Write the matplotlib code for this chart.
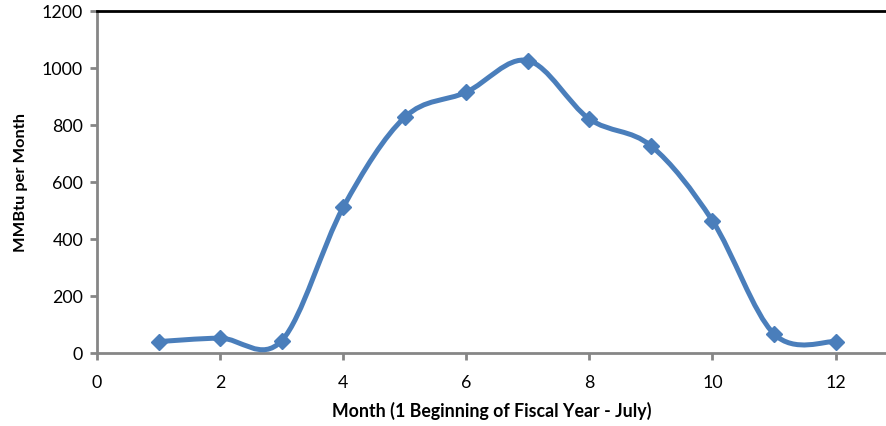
import numpy as np
import matplotlib
matplotlib.use("Agg")
import matplotlib.pyplot as plt
from matplotlib.path import Path
from matplotlib.patches import PathPatch

months = [1, 2, 3, 4, 5, 6, 7, 8, 9, 10, 11, 12]
mmbtu = [40, 52, 43, 511, 827, 915, 1026, 821, 727, 464, 67, 40]
x_ticks = [0, 2, 4, 6, 8, 10, 12]
y_ticks = [0, 200, 400, 600, 800, 1000, 1200]

plt.rcParams['font.family'] = ['Lato', 'DejaVu Sans']

LINE = '#4A7EBB'
AXIS_GRAY = '#868686'

fig = plt.figure(figsize=(8.86, 4.27), dpi=100)
ax = fig.add_axes([0.1095, 0.171, 1.0 - 0.1095, 0.972 - 0.171])


def smooth_path(xs, ys):
    """Cubic Bezier spline through the points (Catmull-Rom style tangents)."""
    px = list(xs)
    py = list(ys)
    n = len(px)
    verts = [(px[0], py[0])]
    codes = [Path.MOVETO]
    for i in range(n - 1):
        i0 = max(i - 1, 0)
        i3 = min(i + 2, n - 1)
        c1 = (px[i] + (px[i + 1] - px[i0]) / 6, py[i] + (py[i + 1] - py[i0]) / 6)
        c2 = (px[i + 1] - (px[i3] - px[i]) / 6, py[i + 1] - (py[i3] - py[i]) / 6)
        verts += [c1, c2, (px[i + 1], py[i + 1])]
        codes += [Path.CURVE4] * 3
    return Path(verts, codes)


ax.add_patch(PathPatch(smooth_path(months, mmbtu), facecolor='none',
                       edgecolor=LINE, lw=3.6, capstyle='round', joinstyle='round', zorder=3))
ax.plot(months, mmbtu, linestyle='none', marker='D', markersize=8.5,
        color=LINE, markeredgecolor=LINE, zorder=4)

ax.set_xlim(0, 12.82)
ax.set_ylim(0, 1200)
ax.set_xticks(x_ticks)
ax.set_yticks(y_ticks)
ax.set_xticklabels([str(v) for v in x_ticks])
ax.set_yticklabels([str(v) for v in y_ticks])

for side in ('left', 'bottom'):
    ax.spines[side].set_color(AXIS_GRAY)
    ax.spines[side].set_linewidth(2.0)
ax.spines['top'].set_color('black')
ax.spines['top'].set_linewidth(2.0)
ax.spines['right'].set_visible(False)

ax.tick_params(axis='both', direction='out', length=5, width=2.0, color=AXIS_GRAY,
               labelsize=12.8, labelcolor='black')
ax.tick_params(axis='x', pad=10)
ax.tick_params(axis='y', pad=5)

ax.set_xlabel('Month (1 Beginning of Fiscal Year - July)', fontsize=12.8,
              fontweight='bold', labelpad=8)
ax.set_ylabel('MMBtu per Month', fontsize=11.8, fontweight='bold', labelpad=10)

fig.savefig('out.png', dpi=100)
